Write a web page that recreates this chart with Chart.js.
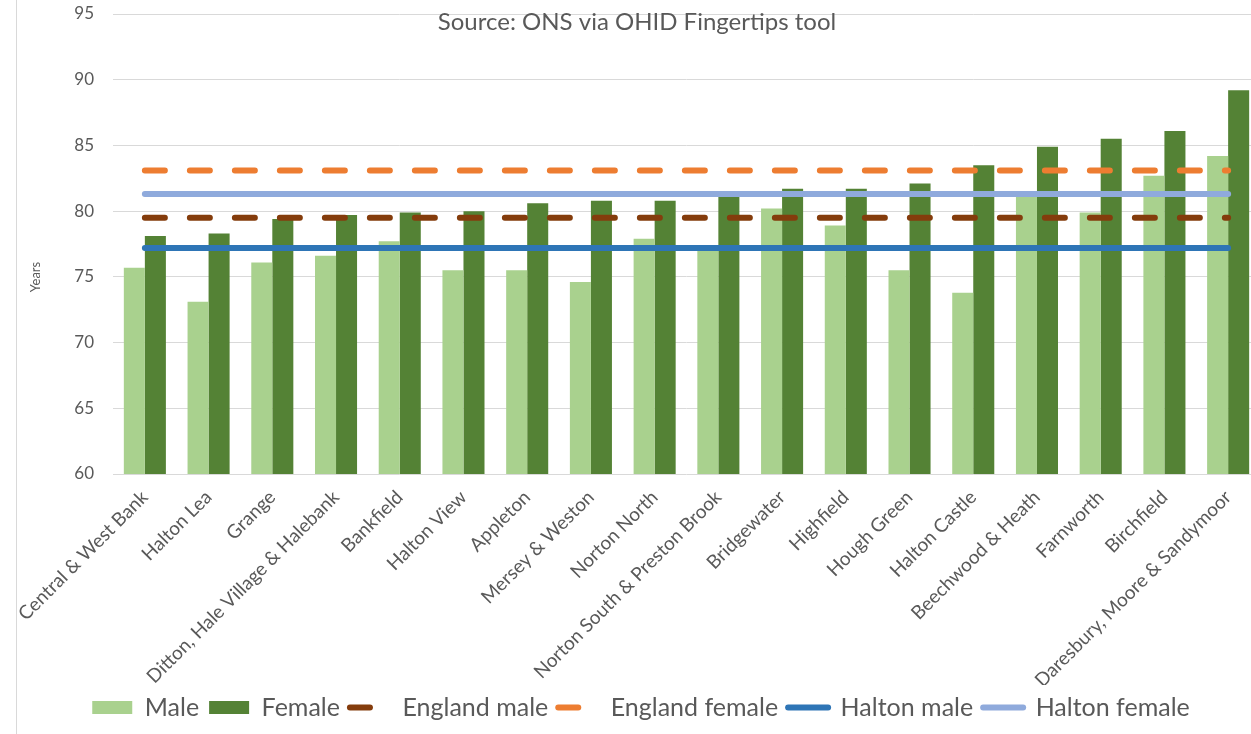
<!DOCTYPE html>
<html>
<head>
<meta charset="utf-8">
<script src="https://cdn.jsdelivr.net/npm/chart.js@4"></script>
<style>
  html, body { margin: 0; padding: 0; background: #fff; overflow: hidden; }
  #wrap { position: relative; width: 1260px; height: 734px; }
  #frame { position: absolute; left: 16px; top: 0; width: 1px; height: 734px; background: #d9d9d9; }
</style>
</head>
<body>
<div id="wrap"><canvas id="myChart"></canvas><div id="frame"></div></div>
<script>
// wards, ordered by female life expectancy
const wards = ['Central & West Bank', 'Halton Lea', 'Grange', 'Ditton, Hale Village & Halebank', 'Bankfield',
  'Halton View', 'Appleton', 'Mersey & Weston', 'Norton North', 'Norton South & Preston Brook', 'Bridgewater',
  'Highfield', 'Hough Green', 'Halton Castle', 'Beechwood & Heath', 'Farnworth', 'Birchfield',
  'Daresbury, Moore & Sandymoor'];
const maleValues = [75.7, 73.1, 76.1, 76.6, 77.7, 75.5, 75.5, 74.6, 77.9, 77.3, 80.2, 78.9, 75.5, 73.8, 81.2, 79.9, 82.7, 84.2];
const femaleValues = [78.1, 78.3, 79.4, 79.7, 79.9, 80.0, 80.6, 80.8, 80.8, 81.2, 81.7, 81.7, 82.1, 83.5, 84.9, 85.5, 86.1, 89.2];
// benchmark lines
const englandMale = 79.5;
const englandFemale = 83.1;
const haltonMale = 77.2;
const haltonFemale = 81.3;
const yTicks = [60, 65, 70, 75, 80, 85, 90, 95];

const FONT = 'Lato, "Open Sans", sans-serif';
const GREY = '#595959';

// flat line from first to last ward
function flat(v) {
  return [{ x: wards[0], y: v }, { x: wards[wards.length - 1], y: v }];
}
function refLine(label, v, color, dashed) {
  return {
    type: 'line', label: label, data: flat(v), order: 1,
    borderColor: color, backgroundColor: color, borderWidth: 6,
    borderDash: dashed ? [20, 25] : [], borderCapStyle: 'round',
    pointRadius: 0, fill: false
  };
}

const textPlugin = {
  id: 'texts',
  afterDraw(chart) {
    const c = chart.ctx;
    c.save();
    c.fillStyle = GREY;
    c.font = '24px ' + FONT;
    c.textAlign = 'center';
    c.textBaseline = 'middle';
    c.fillText('Source: ONS via OHID Fingertips tool', 637, 22);
    c.translate(36, 277);
    c.rotate(-Math.PI / 2);
    c.font = '13px ' + FONT;
    c.fillText('Years', 0, 0);
    c.restore();
  }
};

const ctx = document.getElementById('myChart');
new Chart(ctx, {
  type: 'bar',
  data: {
    labels: wards,
    datasets: [
      { label: 'Male', data: maleValues, backgroundColor: '#A9D18E', order: 2 },
      { label: 'Female', data: femaleValues, backgroundColor: '#548235', order: 2 },
      refLine('England male', englandMale, '#843C0C', true),
      refLine('England female', englandFemale, '#ED7D31', true),
      refLine('Halton male', haltonMale, '#2E75B6', false),
      refLine('Halton female', haltonFemale, '#8FAADC', false)
    ]
  },
  options: {
    responsive: true,
    maintainAspectRatio: false,
    animation: false,
    layout: { padding: { top: 14, right: 0, bottom: 4, left: 22 } },
    datasets: { bar: { barPercentage: 1, categoryPercentage: 0.66 } },
    scales: {
      x: {
        grid: { display: false },
        border: { display: false },
        ticks: {
          autoSkip: false, minRotation: 45, maxRotation: 45, padding: 4,
          color: GREY, font: { family: FONT, size: 19 }
        },
        afterFit(scale) {
          scale.height = 211;
          scale.paddingLeft = 0;
          scale.paddingRight = 0;
        }
      },
      y: {
        min: 60, max: 95,
        grid: { color: '#d9d9d9', drawTicks: false },
        border: { display: false },
        afterBuildTicks(scale) { scale.ticks = yTicks.map(v => ({ value: v })); },
        ticks: { padding: 19, color: GREY, font: { family: FONT, size: 17 } },
        afterFit(scale) {
          scale.width = 91;
          scale.paddingTop = 0;
          scale.paddingBottom = 0;
        }
      }
    },
    plugins: {
      tooltip: { enabled: false },
      legend: {
        position: 'bottom',
        labels: {
          color: GREY,
          font: { family: FONT, size: 25 },
          usePointStyle: true,
          pointStyleWidth: 40,
          boxHeight: 13,
          padding: 10,
          sort: (a, b) => a.datasetIndex - b.datasetIndex,
          generateLabels(chart) {
            const items = Chart.defaults.plugins.legend.labels.generateLabels(chart);
            items.forEach(item => {
              const ds = chart.data.datasets[item.datasetIndex];
              if (ds.type === 'line') {
                item.pointStyle = 'line';
                item.lineWidth = 6;
                item.lineCap = 'round';
                item.lineDash = ds.borderDash.length ? [20, 100] : [];
              } else {
                item.pointStyle = 'rect';
                item.lineWidth = 0;
              }
            });
            return items;
          }
        }
      }
    }
  },
  plugins: [textPlugin]
});
</script>
</body>
</html>
